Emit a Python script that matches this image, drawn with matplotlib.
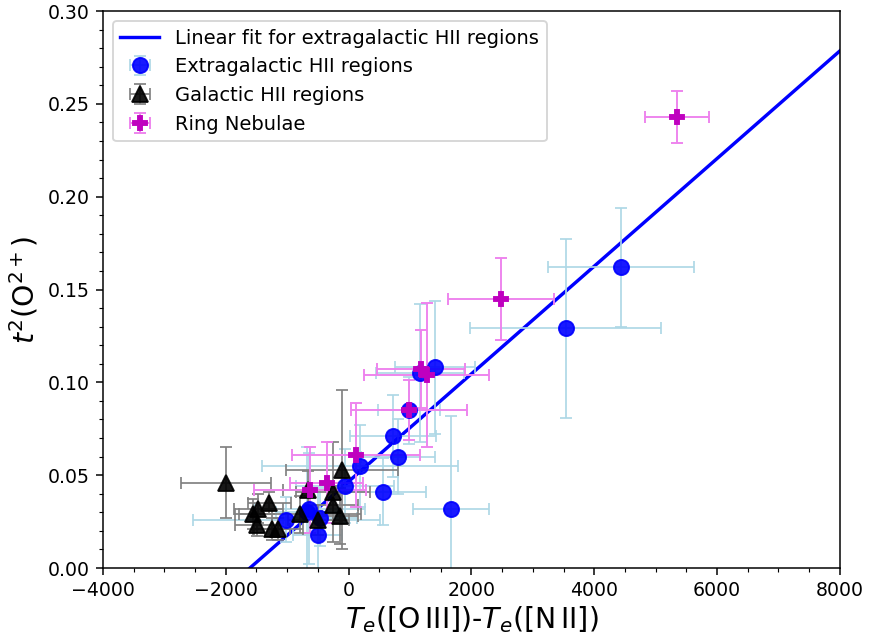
import numpy as np
import matplotlib
matplotlib.use('Agg')
import matplotlib.pyplot as plt
from matplotlib.ticker import MultipleLocator

# extragalactic HII regions
ext_x = [4434, 3533, 1405, 1161, 982, 722, 803, 184, -60, 559, 1666, -1013, -640, -500, -470, -680]
ext_y = [0.162, 0.129, 0.108, 0.105, 0.085, 0.071, 0.060, 0.055, 0.044, 0.041, 0.032, 0.026, 0.032, 0.018, 0.027, 0.030]
ext_xerr = [1190, 1560, 650, 720, 500, 700, 600, 1600, 800, 700, 620, 1520, 900, 400, 600, 500]
ext_yerr = [0.032, 0.048, 0.036, 0.037, 0.018, 0.022, 0.020, 0.022, 0.020, 0.018, 0.050, 0.012, 0.030, 0.025, 0.015, 0.035]

# galactic HII regions
gal_x = [-1997, -1472, -1292, -1553, -1497, -1253, -1146, -793, -495, -250, -141, -104, -255, -662]
gal_y = [0.046, 0.032, 0.035, 0.029, 0.023, 0.021, 0.021, 0.029, 0.026, 0.034, 0.028, 0.053, 0.041, 0.042]
gal_xerr = [730, 400, 350, 300, 350, 300, 400, 1000, 500, 400, 300, 910, 600, 400]
gal_yerr = [0.019, 0.008, 0.006, 0.008, 0.006, 0.006, 0.006, 0.010, 0.008, 0.010, 0.015, 0.043, 0.027, 0.010]

# ring nebulae
ring_x = [5346, 2480, 1180, 1270, 982, 120, -358, -630]
ring_y = [0.243, 0.145, 0.107, 0.104, 0.085, 0.061, 0.046, 0.042]
ring_xerr = [516, 860, 720, 1020, 940, 1050, 600, 910]
ring_yerr = [0.014, 0.022, 0.021, 0.039, 0.016, 0.028, 0.022, 0.023]

# linear fit to the extragalactic sample
fit_slope = 2.899e-5
fit_intercept = 0.0466

fig = plt.figure(figsize=(869 / 136, 636 / 136), dpi=136)
ax = fig.add_axes([0.1185, 0.1069, 0.848, 0.8758])

xx = np.array([-4000, 8000])
ax.plot(xx, fit_intercept + fit_slope * xx, color='blue', lw=1.8,
        label='Linear fit for extragalactic HII regions')

ax.errorbar(ext_x, ext_y, xerr=ext_xerr, yerr=ext_yerr, fmt='o', color='blue',
            ecolor='lightblue', elinewidth=1, capsize=3, markersize=8, alpha=0.9,
            label='Extragalactic HII regions')
ax.errorbar(gal_x, gal_y, xerr=gal_xerr, yerr=gal_yerr, fmt='^', color='black',
            ecolor='gray', elinewidth=1, capsize=3, markersize=8, alpha=0.9,
            label='Galactic HII regions')
ax.errorbar(ring_x, ring_y, xerr=ring_xerr, yerr=ring_yerr, fmt='P', color='m',
            ecolor='violet', elinewidth=1, capsize=3, markersize=7,
            label='Ring Nebulae')

ax.set_xlim(-4000, 8000)
ax.set_ylim(0, 0.30)
ax.xaxis.set_minor_locator(MultipleLocator(500))
ax.yaxis.set_minor_locator(MultipleLocator(0.01))

ax.set_xlabel(r'$T_e$([O$\,$III])-$T_e$([N$\,$II])', fontsize=15, labelpad=2)
ax.set_ylabel(r'$t^2$(O$^{2+}$)', fontsize=15)
ax.legend(loc='upper left', fontsize=10.3)

plt.savefig('out.png', dpi=136)
